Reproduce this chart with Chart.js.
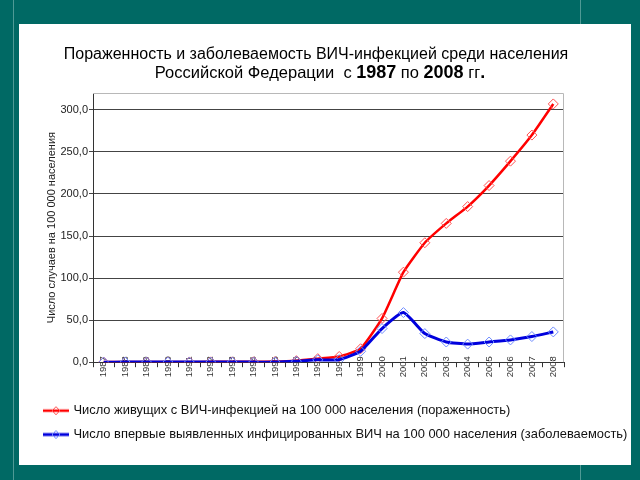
<!DOCTYPE html>
<html><head><meta charset="utf-8">
<script src="https://cdn.jsdelivr.net/npm/chart.js@4.4.1/dist/chart.umd.min.js"></script>
<style>
html,body{margin:0;padding:0;}
body{width:640px;height:480px;background:#006964;position:relative;overflow:hidden;}
.vl{position:absolute;width:1px;background:#4f9a95;}
#panel{position:absolute;left:19px;top:24px;width:612px;height:441px;background:#fff;}
canvas{display:block;}
</style></head><body>
<div class="vl" style="left:13px;top:0;height:480px"></div>
<div class="vl" style="left:580px;top:0;height:480px"></div>
<div id="panel"><canvas id="c" width="612" height="441"></canvas></div>
<script>
const years = ['1987','1988','1989','1990','1991','1992','1993','1994','1995','1996','1997','1998','1999','2000','2001','2002','2003','2004','2005','2006','2007','2008'];
const prevalence = [0.1, 0.1, 0.2, 0.3, 0.3, 0.4, 0.4, 0.5, 0.7, 1.8, 4.2, 6.8, 16.0, 52.0, 107.0, 142.0, 165.0, 185.0, 210.0, 239.0, 270.0, 307.0];
const incidence = [0.0, 0.1, 0.1, 0.1, 0.1, 0.1, 0.1, 0.1, 0.1, 1.2, 2.8, 3.0, 13.0, 40.0, 59.0, 34.0, 24.0, 21.5, 24.0, 26.5, 30.5, 36.0];
const seriesNames = [
  'Число живущих с ВИЧ-инфекцией на 100 000 населения (пораженность)',
  'Число впервые выявленных инфицированных ВИЧ на 100 000 населения (заболеваемость)'
];
const yAxisTitle = 'Число случаев на 100 000 населения';
const titleLine1 = 'Пораженность и заболеваемость ВИЧ-инфекцией среди населения';
const titleLine2Runs = [['Российской Федерации  с ', false], ['1987', true], [' по ', false], ['2008', true], [' гг', false], ['.', true]];

const FONT = "'Liberation Sans', Arial, sans-serif";

function legendIcon(color, lw, mcolor) {
  const c = document.createElement('canvas'); c.width = 26; c.height = 12;
  const g = c.getContext('2d');
  g.strokeStyle = color; g.lineWidth = lw; g.beginPath(); g.moveTo(0, 6); g.lineTo(26, 6); g.stroke();
  g.strokeStyle = mcolor; g.lineWidth = 1; g.beginPath();
  g.moveTo(13, 2); g.lineTo(17, 6); g.lineTo(13, 10); g.lineTo(9, 6); g.closePath(); g.stroke();
  return c;
}
const icons = [legendIcon('#ff0000', 2.5, '#ff5050'), legendIcon('#0000dd', 3, '#6f8cff')];

const framePlugin = {
  id: 'frame',
  beforeDatasetsDraw(chart) {
    const a = chart.chartArea, ctx = chart.ctx;
    ctx.save(); ctx.strokeStyle = '#b8b8b8'; ctx.lineWidth = 1;
    ctx.beginPath(); ctx.moveTo(a.left, a.top + 0.5); ctx.lineTo(a.right - 0.5, a.top + 0.5); ctx.lineTo(a.right - 0.5, a.bottom); ctx.stroke();
    ctx.restore();
  }
};

const titlePlugin = {
  id: 'mixedTitle',
  afterDraw(chart) {
    const ctx = chart.ctx;
    ctx.save(); ctx.fillStyle = '#000'; ctx.textBaseline = 'alphabetic'; ctx.textAlign = 'left';
    ctx.font = '16px ' + FONT;
    const w1 = ctx.measureText(titleLine1).width;
    ctx.fillText(titleLine1, 297 - w1 / 2, 35);
    const fontOf = r => r[1] ? 'bold 18px ' + FONT : '16.5px ' + FONT;
    let total = 0; const ws = [];
    titleLine2Runs.forEach(r => { ctx.font = fontOf(r); const w = ctx.measureText(r[0]).width; ws.push(w); total += w; });
    let x = 320 - 19 - total / 2;
    titleLine2Runs.forEach((r, i) => { ctx.font = fontOf(r); ctx.fillText(r[0], x, 54); x += ws[i]; });
    ctx.restore();
  }
};

new Chart(document.getElementById('c'), {
  type: 'line',
  data: {
    labels: years,
    datasets: [
      { label: seriesNames[0], data: prevalence, borderColor: '#ff0000', borderWidth: 2.5, pointStyle: 'rectRot', pointRadius: 5,
        pointBorderColor: '#ff5050', pointBackgroundColor: 'rgba(0,0,0,0)', pointBorderWidth: 1, tension: 0.15, order: 1 },
      { label: seriesNames[1], data: incidence, borderColor: '#0000dd', borderWidth: 3, pointStyle: 'rectRot', pointRadius: 5,
        pointBorderColor: '#6f8cff', pointBackgroundColor: 'rgba(0,0,0,0)', pointBorderWidth: 1, tension: 0.15, order: 0 }
    ]
  },
  options: {
    responsive: false, animation: false,
    layout: { padding: { left: 15, right: 0, top: 69, bottom: 14 } },
    scales: {
      x: {
        offset: true,
        grid: { display: true, drawOnChartArea: false, drawTicks: true, tickLength: 5, color: '#333', offset: true },
        border: { display: true, color: '#333', width: 1 },
        ticks: { autoSkip: false, minRotation: 90, maxRotation: 90, padding: -11, color: '#333', font: { family: FONT, size: 9.5 } },
        afterFit(s) { s.height = 31; s._computeLabelArea = () => undefined; }
      },
      y: {
        min: 0, max: 320,
        grid: { color: '#444', tickLength: 4, drawTicks: true },
        border: { color: '#333' },
        ticks: { stepSize: 50, includeBounds: false, padding: 1, color: '#222', font: { family: FONT, size: 11 },
          callback: v => v.toFixed(1).replace('.', ',') },
        title: { display: true, text: yAxisTitle, color: '#222', font: { family: FONT, size: 11 }, padding: { top: 11, bottom: 0 } },
        afterFit(s) { s.width = 59; }
      },
      yRight: {
        position: 'right', display: true,
        grid: { display: false }, border: { display: false }, ticks: { display: false },
        afterFit(s) { s.width = 67; }
      }
    },
    plugins: {
      legend: {
        position: 'bottom', align: 'start',
        labels: {
          usePointStyle: true, pointStyleWidth: 22, padding: 11, color: '#111', font: { family: FONT, size: 12.9 },
          sort: (a, b) => a.datasetIndex - b.datasetIndex,
          generateLabels(chart) {
            const items = Chart.defaults.plugins.legend.labels.generateLabels(chart);
            items.forEach(it => { it.pointStyle = icons[it.datasetIndex]; });
            return items;
          }
        }
      },
      tooltip: { enabled: false }
    }
  },
  plugins: [framePlugin, titlePlugin]
});
</script></body></html>
